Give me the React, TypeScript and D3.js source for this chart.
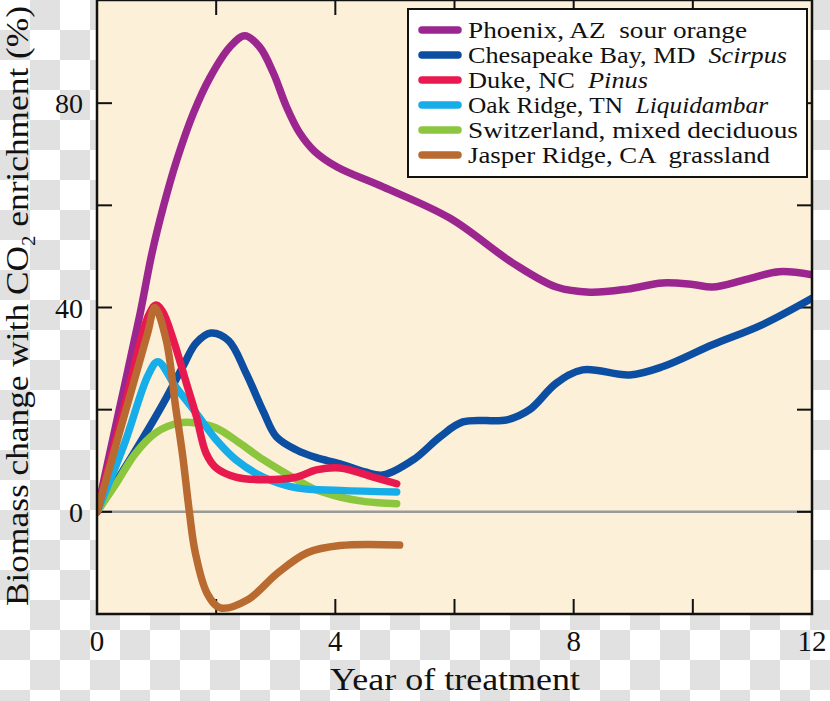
import React from "react";
import * as d3 from "d3";

const phoenixX = [0, 0.36, 0.725, 0.92, 1.12, 1.34, 1.62, 1.9, 2.23, 2.48, 2.73, 2.96, 3.18, 3.4, 3.65, 4.03, 4.8, 5.92, 6.98, 7.71, 8.27, 8.9, 9.49, 10.0, 10.33, 10.9, 11.45, 12];
const phoenixY = [0, 19.3, 38.9, 50.5, 60, 68.9, 78.1, 85.1, 91, 93.2, 91, 85.9, 79.3, 74.2, 70.6, 67.5, 63.6, 57.5, 48.7, 44, 43, 43.6, 44.8, 44.5, 44, 45.5, 47, 46.4];

const chesapeakeX = [0, 0.54, 1.1, 1.44, 1.66, 1.91, 2.21, 2.5, 2.8, 3.01, 3.35, 3.68, 4.08, 4.5, 4.8, 5.31, 5.76, 6.14, 6.88, 7.26, 7.71, 8.15, 8.94, 9.49, 10.33, 11.16, 12];
const chesapeakeY = [0, 10, 21, 28.4, 33, 35, 33.5, 27.2, 19.4, 14.7, 12.1, 10.6, 9.4, 7.8, 7.2, 10.2, 14.7, 17.6, 18, 20, 25.2, 27.8, 26.8, 28.4, 32.7, 36.6, 41.8];

const dukeX = [0, 0.5, 0.86, 0.99, 1.1, 1.28, 1.5, 1.67, 1.83, 2.0, 2.33, 2.79, 3.35, 3.68, 4.08, 4.64, 5.03];
const dukeY = [0, 22.5, 38.3, 40.5, 39.2, 33.7, 25.2, 18.6, 11.5, 8.6, 6.8, 6.3, 6.8, 8.2, 8.6, 6.8, 5.5];

const oakX = [0, 0.45, 0.86, 1.02, 1.32, 1.66, 2.0, 2.33, 2.79, 3.35, 4.08, 5.03];
const oakY = [0, 13, 26.8, 29.4, 24.5, 19.4, 14.1, 10.2, 6.8, 4.7, 4.2, 3.9];

const swissX = [0, 0.32, 0.65, 0.99, 1.38, 1.66, 2.0, 2.39, 2.79, 3.35, 3.68, 4.08, 4.5, 5.03];
const swissY = [0, 5.5, 11.5, 15.5, 17.4, 17.4, 16.4, 13.5, 10.2, 6.3, 4.3, 2.9, 2.0, 1.6];

const jasperX = [0, 0.45, 0.85, 0.97, 1.16, 1.32, 1.44, 1.55, 1.65, 1.85, 2.07, 2.53, 3.03, 3.53, 4.08, 5.08];
const jasperY = [0, 18.5, 35, 40, 33.7, 20.5, 10.8, 0, -8, -16, -18.8, -17.2, -12, -8, -6.6, -6.5];

const seriesNames = [
  ["Phoenix, AZ  sour orange", ""],
  ["Chesapeake Bay, MD  ", "Scirpus"],
  ["Duke, NC  ", "Pinus"],
  ["Oak Ridge, TN  ", "Liquidambar"],
  ["Switzerland, mixed deciduous", ""],
  ["Jasper Ridge, CA  grassland", ""],
];
const legendWidths = [279, 319, 180, 300, 330, 302];
const seriesColors = ["#9c2690", "#0c4ea2", "#e8194e", "#16ade8", "#8cc63f", "#b86a30"];
const seriesXs = [phoenixX, chesapeakeX, dukeX, oakX, swissX, jasperX];
const seriesYs = [phoenixY, chesapeakeY, dukeY, oakY, swissY, jasperY];

const xTicksLabeled = [0, 4, 8, 12];
const xTicksAll = [2, 4, 6, 8, 10];
const yTicksLabeled = [0, 40, 80];
const yTicksAll = [0, 20, 40, 60, 80];

export default function App() {
  const W = 830, H = 701;
  const x = d3.scaleLinear().domain([0, 12]).range([97, 812]);
  const y = d3.scaleLinear().domain([-20, 100]).range([614, 1]);
  const line = d3
    .line<[number, number]>()
    .x((d) => x(d[0]))
    .y((d) => y(d[1]))
    .curve(d3.curveCatmullRom.alpha(0.5));
  const font = "'Liberation Serif', 'Times New Roman', serif";
  const top = 0;
  const drawOrder = [0, 1, 4, 3, 2, 5];

  return (
    <svg
      width={W}
      height={H}
      style={{ position: "absolute", left: 0, top: 0, display: "block" }}
      fontFamily={font}
    >
      <defs>
        <pattern id="checker" width={60} height={60} patternUnits="userSpaceOnUse">
          <rect width={60} height={60} fill="#ffffff" />
          <rect x={30} y={0} width={30} height={30} fill="#e1e1e1" />
          <rect x={0} y={30} width={30} height={30} fill="#e1e1e1" />
        </pattern>
        <clipPath id="plotclip">
          <rect x={x(0)} y={top} width={x(12) - x(0)} height={y(-20) - top} />
        </clipPath>
      </defs>
      <rect width={W} height={H} fill="url(#checker)" />
      <rect x={x(0)} y={top} width={x(12) - x(0)} height={y(-20) - top} fill="#fdf0d9" />
      <line x1={x(0)} x2={x(12)} y1={y(0)} y2={y(0)} stroke="#9a9a9a" strokeWidth={2.5} />
      {yTicksAll.map((t) => (
        <g key={"yt" + t}>
          <line x1={x(0)} x2={x(0) + 15} y1={y(t)} y2={y(t)} stroke="#111" strokeWidth={2} />
          <line x1={x(12) - 15} x2={x(12)} y1={y(t)} y2={y(t)} stroke="#111" strokeWidth={2} />
        </g>
      ))}
      {xTicksAll.map((t) => (
        <g key={"xt" + t}>
          <line x1={x(t)} x2={x(t)} y1={y(-20)} y2={y(-20) - 15} stroke="#111" strokeWidth={2} />
          <line x1={x(t)} x2={x(t)} y1={top} y2={top + 15} stroke="#111" strokeWidth={2} />
        </g>
      ))}
      <g clipPath="url(#plotclip)">
        {drawOrder.map((i) => (
          <path
            key={"s" + i}
            d={line(seriesXs[i].map((v, k) => [v, seriesYs[i][k]] as [number, number])) || ""}
            fill="none"
            stroke={seriesColors[i]}
            strokeWidth={7.5}
            strokeLinecap="round"
            strokeLinejoin="round"
          />
        ))}
      </g>
      <rect
        x={x(0)}
        y={top}
        width={x(12) - x(0)}
        height={y(-20) - top}
        fill="none"
        stroke="#111"
        strokeWidth={2.5}
      />
      <rect x={408} y={9} width={399} height={168} fill="#ffffff" stroke="#111" strokeWidth={2} />
      {seriesNames.map((n, i) => (
        <g key={"lg" + i}>
          <line
            x1={422}
            x2={458}
            y1={30 + i * 25}
            y2={30 + i * 25}
            stroke={seriesColors[i]}
            strokeWidth={7.5}
            strokeLinecap="round"
          />
          <text
            x={468}
            y={30 + i * 25 + 8}
            fontSize={23}
            fill="#111"
            textLength={legendWidths[i]}
            lengthAdjust="spacingAndGlyphs"
            style={{ whiteSpace: "pre" }}
          >
            {n[0]}
            {n[1] ? <tspan fontStyle="italic">{n[1]}</tspan> : null}
          </text>
        </g>
      ))}
      {yTicksLabeled.map((t) => (
        <text key={"yl" + t} x={83} y={y(t) + 10} fontSize={28} textAnchor="end" fill="#111">
          {t}
        </text>
      ))}
      {xTicksLabeled.map((t) => (
        <text key={"xl" + t} x={x(t)} y={651} fontSize={29} textAnchor="middle" fill="#111">
          {t}
        </text>
      ))}
      <text
        x={455}
        y={690}
        fontSize={32}
        textAnchor="middle"
        fill="#111"
        textLength={250}
        lengthAdjust="spacingAndGlyphs"
      >
        Year of treatment
      </text>
      <text
        transform={`translate(28,${306}) rotate(-90)`}
        fontSize={32}
        textAnchor="middle"
        fill="#111"
        textLength={600}
        lengthAdjust="spacingAndGlyphs"
      >
        Biomass change with CO
        <tspan fontSize={19} dy={7}>2</tspan>
        <tspan dy={-7}> enrichment (%)</tspan>
      </text>
    </svg>
  );
}
